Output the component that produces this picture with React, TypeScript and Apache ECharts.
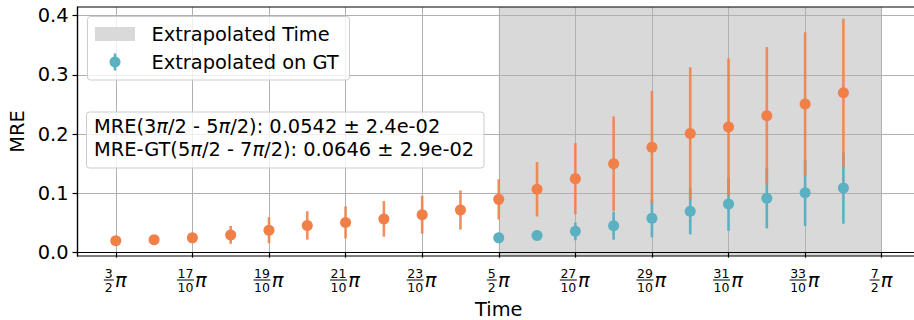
import React, { useEffect, useRef } from "react";
import * as echarts from "echarts";

// x positions are in units of π
const orangeX = [1.5, 1.6, 1.7, 1.8, 1.9, 2.0, 2.1, 2.2, 2.3, 2.4, 2.5, 2.6, 2.7, 2.8, 2.9, 3.0, 3.1, 3.2, 3.3, 3.4];
const orangeMRE = [0.020, 0.022, 0.025, 0.030, 0.038, 0.046, 0.051, 0.057, 0.064, 0.072, 0.090, 0.107, 0.125, 0.150, 0.178, 0.201, 0.212, 0.231, 0.251, 0.270];
const orangeErr = [0.0065, 0.006, 0.007, 0.015, 0.022, 0.024, 0.027, 0.030, 0.032, 0.033, 0.034, 0.046, 0.060, 0.080, 0.095, 0.112, 0.116, 0.116, 0.121, 0.125];

const gtX = [2.5, 2.6, 2.7, 2.8, 2.9, 3.0, 3.1, 3.2, 3.3, 3.4];
const gtMRE = [0.025, 0.029, 0.036, 0.0455, 0.058, 0.070, 0.082, 0.092, 0.101, 0.109];
const gtErr = [0.005, 0.007, 0.015, 0.0235, 0.032, 0.039, 0.045, 0.051, 0.056, 0.060];

const xTickValues = [1.5, 1.7, 1.9, 2.1, 2.3, 2.5, 2.7, 2.9, 3.1, 3.3, 3.5];
const xTickNum = ["3", "17", "19", "21", "23", "5", "27", "29", "31", "33", "7"];
const xTickDen = ["2", "10", "10", "10", "10", "2", "10", "10", "10", "10", "2"];
const yTickValues = [0, 0.1, 0.2, 0.3, 0.4];
const yTickLabels = ["0.0", "0.1", "0.2", "0.3", "0.4"];

const extrapolatedSpan = [[2.5, 3.5]];
const legendLabels = ["Extrapolated Time", "Extrapolated on GT"];
const statLines = [
  "MRE(3π/2 - 5π/2): 0.0542 ± 2.4e-02",
  "MRE-GT(5π/2 - 7π/2): 0.0646 ± 2.9e-02",
];

const ORANGE = "#F07F48";
const BLUE = "#5BB1C1";
const SHADE = "#d9d9d9";
const GRIDC = "#b0b0b0";
const FONT = "DejaVu Sans";
const FS = 19.4;

function errSeries(name: string, xs: number[], means: number[], errs: number[], color: string, opacity: number, z: number) {
  return {
    type: "custom",
    name,
    z,
    silent: true,
    data: xs.map((x, i) => [x, means[i] - errs[i], means[i] + errs[i]]),
    encode: { x: 0, y: [1, 2] },
    renderItem: (_p: any, api: any) => {
      const lo = api.coord([api.value(0), api.value(1)]);
      const hi = api.coord([api.value(0), api.value(2)]);
      return {
        type: "line",
        shape: { x1: lo[0], y1: lo[1], x2: hi[0], y2: hi[1] },
        style: { stroke: color, lineWidth: 2.6, opacity },
      };
    },
  };
}

export default function App() {
  const ref = useRef<HTMLDivElement>(null);
  useEffect(() => {
    if (!ref.current) return;
    const chart = echarts.init(ref.current, null, { renderer: "svg" });
    const rich: any = {
      g: { width: 14, lineHeight: 12 },
      p: { fontSize: FS, fontStyle: "italic", fontFamily: FONT, width: 14, align: "left", lineHeight: 2, color: "#000" },
    };
    [10, 17].forEach((w) => {
      rich["n" + w] = { width: w, align: "center", fontSize: 12.5, lineHeight: 12, fontFamily: FONT, color: "#000" };
      rich["b" + w] = { width: w, height: 1, lineHeight: 2, backgroundColor: "#000" };
    });
    const statRich = { pi: { fontStyle: "italic", fontSize: FS, fontFamily: FONT, fill: "#000" } };
    const option: any = {
      animation: false,
      textStyle: { fontFamily: FONT },
      grid: {
        left: 77.5, top: 7, right: -6, bottom: 64,
        show: true, borderColor: "#000", borderWidth: 1.2, backgroundColor: "transparent",
        z: 5, containLabel: false, outerBoundsMode: "none",
      },
      xAxis: {
        type: "value", min: 1.4, max: 3.6, z: 1,
        name: "Time", nameLocation: "middle", nameGap: 44,
        nameTextStyle: { fontSize: FS, color: "#000", fontFamily: FONT },
        axisLine: { show: true, lineStyle: { color: "#000", width: 1.2 } },
        axisTick: { show: true, length: 5, customValues: xTickValues, lineStyle: { color: "#000", width: 1.2 } },
        splitLine: { show: true, lineStyle: { color: GRIDC, width: 1 } },
        axisLabel: {
          customValues: xTickValues,
          margin: 11,
          formatter: (v: number) => {
            const i = xTickValues.findIndex((t) => Math.abs(t - v) < 1e-6);
            if (i < 0) return "";
            const w = xTickNum[i].length > 1 ? 17 : 10;
            return `{n${w}|${xTickNum[i]}}{g|}\n{b${w}|}{p|π}\n{n${w}|${xTickDen[i]}}{g|}`;
          },
          rich,
        },
      },
      yAxis: {
        type: "value", min: -0.0056, max: 0.4147, z: 1,
        name: "MRE", nameLocation: "middle", nameGap: 50, nameRotate: 90,
        nameTextStyle: { fontSize: FS, color: "#000", fontFamily: FONT },
        axisLine: { show: true, lineStyle: { color: "#000", width: 1.2 } },
        axisTick: { show: true, length: 5, customValues: yTickValues, lineStyle: { color: "#000", width: 1.2 } },
        splitLine: { show: true, lineStyle: { color: GRIDC, width: 1 } },
        axisLabel: {
          customValues: yTickValues,
          margin: 9,
          fontSize: FS, color: "#000", fontFamily: FONT,
          formatter: (v: number) => {
            const i = yTickValues.findIndex((t) => Math.abs(t - v) < 1e-9);
            return i < 0 ? "" : yTickLabels[i];
          },
        },
      },
      series: [
        {
          type: "custom",
          name: legendLabels[0],
          z: 0,
          silent: true,
          data: extrapolatedSpan,
          encode: { x: [0, 1] },
          renderItem: (params: any, api: any) => {
            const a = api.coord([api.value(0), 0]);
            const b = api.coord([api.value(1), 0]);
            const cs = params.coordSys;
            return {
              type: "rect",
              shape: { x: a[0], y: cs.y, width: b[0] - a[0], height: cs.height },
              style: { fill: SHADE },
            };
          },
        },
        errSeries("gtErr", gtX, gtMRE, gtErr, BLUE, 1, 2),
        errSeries("mreErr", orangeX, orangeMRE, orangeErr, ORANGE, 0.88, 3),
        {
          type: "scatter", name: "MRE", z: 4, silent: true,
          symbol: "circle", symbolSize: 11,
          itemStyle: { color: ORANGE, opacity: 1 },
          data: orangeX.map((x, i) => [x, orangeMRE[i]]),
        },
        {
          type: "scatter", name: legendLabels[1], z: 4, silent: true,
          symbol: "circle", symbolSize: 11,
          itemStyle: { color: BLUE, opacity: 1 },
          data: gtX.map((x, i) => [x, gtMRE[i]]),
        },
      ],
      graphic: [
        // legend
        { type: "rect", z: 100, shape: { x: 87.5, y: 16.5, width: 262, height: 63.5, r: 3 }, style: { fill: "rgba(255,255,255,0.8)", stroke: "#cccccc", lineWidth: 1 } },
        { type: "rect", z: 101, shape: { x: 95, y: 27, width: 40, height: 14 }, style: { fill: SHADE } },
        { type: "text", z: 101, x: 151.5, y: 34, style: { text: legendLabels[0], fontSize: FS, fontFamily: FONT, fill: "#000", verticalAlign: "middle" } },
        { type: "line", z: 101, shape: { x1: 115, y1: 53.5, x2: 115, y2: 70.5 }, style: { stroke: BLUE, lineWidth: 2.6 } },
        { type: "circle", z: 102, shape: { cx: 115, cy: 62, r: 5.5 }, style: { fill: BLUE } },
        { type: "text", z: 101, x: 151.5, y: 62, style: { text: legendLabels[1], fontSize: FS, fontFamily: FONT, fill: "#000", verticalAlign: "middle" } },
        // stats box
        { type: "rect", z: 100, shape: { x: 86.5, y: 112, width: 397.5, height: 56, r: 3 }, style: { fill: "rgba(255,255,255,0.8)", stroke: "#cccccc", lineWidth: 1 } },
        ...statLines.map((s, i) => ({
          type: "text", z: 101, x: 94, y: 126.4 + i * 23,
          style: { text: s.replace(/π/g, "{pi|π}"), rich: statRich, fontSize: FS, fontFamily: FONT, fill: "#000", verticalAlign: "middle" },
        })),
      ],
    };
    chart.setOption(option);
    return () => chart.dispose();
  }, []);
  return <div ref={ref} style={{ position: "fixed", left: 0, top: 0, width: 914, height: 320, background: "#fff" }} />;
}
